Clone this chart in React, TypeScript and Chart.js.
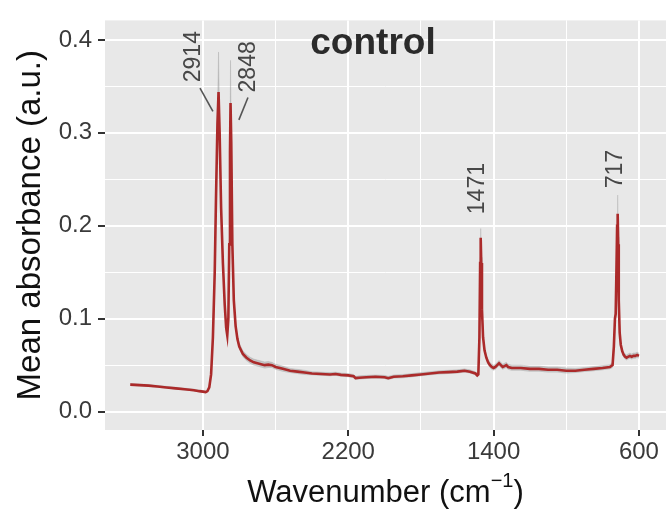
import { useEffect, useRef } from "react";
import { Chart, registerables } from "chart.js";

Chart.register(...registerables);

// Wavenumber (cm^-1), descending
const wavenumbers = [
  3400, 3350, 3300, 3250, 3200, 3150, 3100, 3050, 3020, 3000, 2985, 2975, 2965, 2955, 2945, 2935, 2928, 2920,
  2914, 2908, 2900, 2890, 2880, 2872, 2866, 2860, 2855, 2851, 2848, 2844, 2838, 2830, 2820, 2810, 2800, 2780,
  2760, 2740, 2720, 2700, 2680, 2660, 2640, 2620, 2600, 2560, 2520, 2480, 2440, 2400, 2350, 2300, 2270, 2240,
  2200, 2170, 2160, 2140, 2100, 2050, 2000, 1980, 1950, 1900, 1850, 1800, 1750, 1700, 1650, 1600, 1560, 1530,
  1500, 1490, 1484, 1478, 1474, 1471, 1468, 1464, 1458, 1450, 1440, 1430, 1420, 1410, 1400, 1390, 1380, 1370,
  1360, 1350, 1340, 1330, 1320, 1300, 1250, 1200, 1150, 1100, 1050, 1000, 950, 900, 850, 800, 760, 745, 738,
  732, 728, 724, 720, 717, 714, 711, 706, 700, 692, 684, 676, 668, 660, 650, 640, 630, 620, 610, 600,
];

// Mean absorbance (a.u.)
const meanAbsorbance = [
  0.029, 0.0285, 0.028, 0.027, 0.026, 0.025, 0.024, 0.023, 0.022, 0.0215, 0.021, 0.022, 0.026, 0.04, 0.08, 0.15, 0.23, 0.31,
  0.344, 0.3, 0.22, 0.16, 0.115, 0.09, 0.082, 0.1, 0.18, 0.28, 0.332, 0.29, 0.18, 0.12, 0.092, 0.078, 0.07, 0.062,
  0.058, 0.055, 0.053, 0.052, 0.051, 0.05, 0.0505, 0.05, 0.048, 0.046, 0.044, 0.043, 0.042, 0.041, 0.0405, 0.04, 0.0405, 0.0395,
  0.039, 0.038, 0.036, 0.0365, 0.037, 0.0375, 0.037, 0.036, 0.0375, 0.038, 0.039, 0.04, 0.041, 0.042, 0.0425, 0.043, 0.044, 0.043,
  0.041, 0.039, 0.04, 0.08, 0.16, 0.187, 0.16, 0.11, 0.08, 0.066, 0.058, 0.053, 0.05, 0.048, 0.047, 0.048, 0.05, 0.052,
  0.05, 0.048, 0.049, 0.05, 0.048, 0.047, 0.047, 0.046, 0.046, 0.045, 0.045, 0.044, 0.044, 0.045, 0.046, 0.047, 0.048, 0.05, 0.07,
  0.1, 0.105, 0.15, 0.2, 0.213, 0.18, 0.12, 0.085, 0.072, 0.065, 0.061, 0.059, 0.058, 0.059, 0.06, 0.059, 0.06, 0.06, 0.061, 0.06,
];

// Spread (sd) around the mean, shown as the grey ribbon
const spread = [
  0.0012, 0.0012, 0.0012, 0.0012, 0.0012, 0.0012, 0.0012, 0.0012, 0.0012, 0.0012, 0.0012, 0.0012, 0.0015, 0.002, 0.003, 0.004, 0.006, 0.015,
  0.043, 0.015, 0.005, 0.004, 0.003, 0.003, 0.004, 0.004, 0.006, 0.015, 0.046, 0.012, 0.005, 0.004, 0.004, 0.0035, 0.0035, 0.0035,
  0.0035, 0.0035, 0.0035, 0.0035, 0.0035, 0.0035, 0.0035, 0.003, 0.003, 0.003, 0.0025, 0.0025, 0.0025, 0.002, 0.002, 0.002, 0.002, 0.002,
  0.002, 0.002, 0.002, 0.002, 0.002, 0.002, 0.002, 0.002, 0.002, 0.002, 0.002, 0.002, 0.002, 0.002, 0.002, 0.002, 0.002, 0.002,
  0.002, 0.002, 0.002, 0.003, 0.006, 0.01, 0.006, 0.004, 0.003, 0.003, 0.003, 0.003, 0.003, 0.003, 0.003, 0.003, 0.003, 0.003,
  0.003, 0.003, 0.003, 0.003, 0.003, 0.003, 0.003, 0.003, 0.003, 0.003, 0.003, 0.003, 0.0025, 0.0025, 0.0025, 0.0025, 0.0025, 0.003, 0.004,
  0.005, 0.005, 0.008, 0.012, 0.02, 0.008, 0.005, 0.004, 0.003, 0.003, 0.003, 0.003, 0.003, 0.003, 0.003, 0.003, 0.003, 0.003, 0.003, 0.003,
];

const majorX = [3000, 2200, 1400, 600];
const minorX = [2600, 1800, 1000];
const majorY = [0, 0.1, 0.2, 0.3, 0.4];
const minorY = [0.05, 0.15, 0.25, 0.35];

const peakLabels = ["2914", "2848", "1471", "717"];
const peakLabelX = [3050, 2747, 1485, 727];
const peakLabelY = [0.382, 0.371, 0.24, 0.261];

const titleText = "control";

const FONT = '"Liberation Sans", Arial, Helvetica, sans-serif';

export default function App() {
  const ref = useRef<HTMLCanvasElement | null>(null);

  useEffect(() => {
    document.body.style.margin = "0";
    const canvas = ref.current;
    if (!canvas) return;

    const line = wavenumbers.map((w, i) => ({ x: w, y: meanAbsorbance[i] }));
    const lower = wavenumbers.map((w, i) => ({ x: w, y: meanAbsorbance[i] - spread[i] }));
    const upper = wavenumbers.map((w, i) => ({ x: w, y: meanAbsorbance[i] + spread[i] }));

    const isMajorX = (v: number) => majorX.some((m) => Math.abs(m - v) < 1e-6);
    const isMajorY = (v: number) => majorY.some((m) => Math.abs(m - v) < 1e-6);

    const decor = {
      id: "ggDecor",
      beforeDraw(chart: any) {
        const { ctx, chartArea } = chart;
        ctx.save();
        ctx.fillStyle = "#E8E8E8";
        ctx.fillRect(chartArea.left, chartArea.top, chartArea.right - chartArea.left, chartArea.bottom - chartArea.top);
        ctx.restore();
      },
      afterDraw(chart: any) {
        const { ctx } = chart;
        const xs = chart.scales.x;
        const ys = chart.scales.y;
        ctx.save();
        // panel title
        ctx.font = `bold 37px ${FONT}`;
        ctx.fillStyle = "#2b2b2b";
        ctx.textAlign = "center";
        ctx.textBaseline = "alphabetic";
        ctx.fillText(titleText, xs.getPixelForValue(2064), ys.getPixelForValue(0.385));

        // peak labels
        ctx.font = `23px ${FONT}`;
        ctx.fillStyle = "#474747";
        ctx.textBaseline = "middle";
        peakLabels.forEach((t, i) => {
          ctx.save();
          ctx.translate(xs.getPixelForValue(peakLabelX[i]), ys.getPixelForValue(peakLabelY[i]));
          ctx.rotate(-Math.PI / 2);
          ctx.fillText(t, 0, 0);
          ctx.restore();
        });
        // leader lines
        ctx.strokeStyle = "#555555";
        ctx.lineWidth = 1.6;
        const seg = (w1: number, v1: number, w2: number, v2: number) => {
          ctx.beginPath();
          ctx.moveTo(xs.getPixelForValue(w1), ys.getPixelForValue(v1));
          ctx.lineTo(xs.getPixelForValue(w2), ys.getPixelForValue(v2));
          ctx.stroke();
        };
        seg(3016, 0.348, 2945, 0.323);
        seg(2752, 0.338, 2802, 0.314);

        // x axis title with superscript
        ctx.fillStyle = "#111111";
        ctx.textBaseline = "alphabetic";
        ctx.textAlign = "left";
        const main = "Wavenumber (cm";
        const sup = "\u22121";
        const close = ")";
        ctx.font = `31px ${FONT}`;
        const wMain = ctx.measureText(main).width;
        const wClose = ctx.measureText(close).width;
        ctx.font = `20px ${FONT}`;
        const wSup = ctx.measureText(sup).width;
        const total = wMain + wSup + wClose;
        const cx = (chart.chartArea.left + chart.chartArea.right) / 2;
        let x0 = cx - total / 2;
        const base = 502;
        ctx.font = `31px ${FONT}`;
        ctx.fillText(main, x0, base);
        x0 += wMain;
        ctx.font = `20px ${FONT}`;
        ctx.fillText(sup, x0, base - 15);
        x0 += wSup;
        ctx.font = `31px ${FONT}`;
        ctx.fillText(close, x0, base);

        // y axis title
        ctx.save();
        ctx.translate(40, (chart.chartArea.top + chart.chartArea.bottom) / 2);
        ctx.rotate(-Math.PI / 2);
        ctx.textAlign = "center";
        ctx.font = `33px ${FONT}`;
        ctx.fillText("Mean absorbance (a.u.)", 0, 0);
        ctx.restore();

        ctx.restore();
      },
    };

    const chart = new Chart(canvas, {
      type: "line",
      data: {
        datasets: [
          {
            label: "mean",
            data: line,
            borderColor: "#ab2a2a",
            borderWidth: 2.6,
            pointRadius: 0,
            tension: 0,
            fill: false,
          },
          {
            label: "lower",
            data: lower,
            borderColor: "rgba(0,0,0,0)",
            borderWidth: 0,
            pointRadius: 0,
            tension: 0,
            fill: false,
          },
          {
            label: "upper",
            data: upper,
            borderColor: "rgba(150,150,150,0.45)",
            borderWidth: 0.6,
            backgroundColor: "rgba(140,140,140,0.4)",
            pointRadius: 0,
            tension: 0,
            fill: "-1",
          },
        ],
      },
      options: {
        responsive: false,
        animation: false,
        events: [],
        layout: { padding: { top: 8, right: 0, left: 0, bottom: 0 } },
        plugins: {
          legend: { display: false },
          tooltip: { enabled: false },
        },
        scales: {
          x: {
            type: "linear",
            reverse: true,
            min: 451,
            max: 3539,
            afterBuildTicks: (scale: any) => {
              scale.ticks = [...majorX, ...minorX].sort((a, b) => b - a).map((v) => ({ value: v }));
            },
            afterFit: (scale: any) => {
              scale.height = 86;
            },
            ticks: {
              autoSkip: false,
              maxRotation: 0,
              padding: 2,
              color: "#3a3a3a",
              font: { family: FONT, size: 24 },
              callback: (v: any) => (isMajorX(Number(v)) ? String(v) : ""),
            },
            grid: {
              color: "#ffffff",
              lineWidth: (c: any) => (c.tick && isMajorX(c.tick.value) ? 2 : 1),
              tickColor: (c: any) => (c.tick && isMajorX(c.tick.value) ? "#333333" : "rgba(0,0,0,0)"),
              tickLength: 6,
              tickWidth: 2,
            },
            border: { display: false },
          },
          y: {
            type: "linear",
            min: -0.0198,
            max: 0.421,
            afterBuildTicks: (scale: any) => {
              scale.ticks = [...majorY, ...minorY].sort((a, b) => a - b).map((v) => ({ value: v }));
            },
            afterFit: (scale: any) => {
              scale.width = 105;
            },
            ticks: {
              autoSkip: false,
              padding: 6,
              color: "#3a3a3a",
              font: { family: FONT, size: 24 },
              callback: (v: any) => (isMajorY(Number(v)) ? Number(v).toFixed(1) : ""),
            },
            grid: {
              color: "#ffffff",
              lineWidth: (c: any) => (c.tick && isMajorY(c.tick.value) ? 2 : 1),
              tickColor: (c: any) => (c.tick && isMajorY(c.tick.value) ? "#333333" : "rgba(0,0,0,0)"),
              tickLength: 7,
              tickWidth: 2,
            },
            border: { display: false },
          },
        },
      },
      plugins: [decor],
    });

    return () => chart.destroy();
  }, []);

  return (
    <div style={{ width: 666, height: 516, background: "#ffffff" }}>
      <canvas ref={ref} width={666} height={516} style={{ display: "block" }} />
    </div>
  );
}
